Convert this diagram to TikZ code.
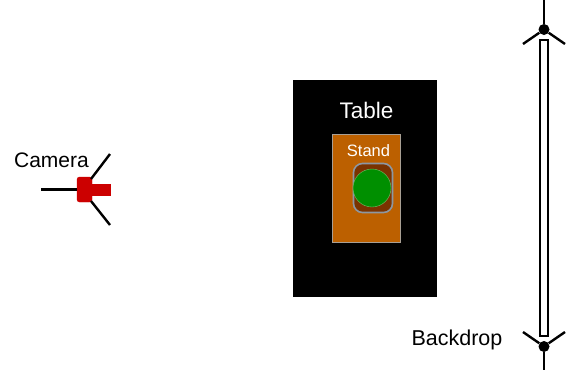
\documentclass[tikz,border=0pt]{standalone}
\usepackage{fontspec}
\setmainfont{Liberation Sans}
\definecolor{camred}{HTML}{CC0000}
\definecolor{standorange}{HTML}{BC6000}
\definecolor{basebrown}{HTML}{7A3300}
\definecolor{ballgreen}{HTML}{008F00}
\definecolor{edgegray}{HTML}{A89F94}
\definecolor{basegray}{HTML}{8C97A3}
\tikzset{
  box/.style={draw,minimum width=#1,inner sep=0pt,outer sep=0pt},
  wire/.style={line width=2.4pt,black},
  caption/.style={font=\fontsize{21}{25}\selectfont,inner sep=0pt}
}
\begin{document}
\begin{tikzpicture}[x=1pt,y=-1pt]

      \useasboundingbox (0,0) rectangle (568,370);

      % table and stand
      \node[box=143.5pt,minimum height=216pt,fill=black] (table) at (364.8,188) {};
      \node[box=68pt,minimum height=108pt,fill=standorange,draw=edgegray] (stand) at (366.5,188) {};
      \node[box=39pt,minimum height=49pt,fill=basebrown,draw=basegray,line width=1.6pt,rounded corners=9pt] (base) at (373,188) {};
      \node[box=38pt,circle,fill=ballgreen,draw=green!30!edgegray] (ball) at (372,188) {};
      \node[caption,text=white,font=\fontsize{22.5}{26}\selectfont] (tablelabel) at (366.5,110) {Table};
      \node[caption,text=white,font=\fontsize{16.5}{20}\selectfont] (standlabel) at (368.5,151) {Stand};

      % camera
      \node[box=15pt,minimum height=25pt,fill=camred,draw=camred,rounded corners=2.5pt] (body) at (84.5,189.5) {};
      \node[box=18pt,minimum height=11pt,fill=camred,draw=camred,anchor=west] (lens) at (body.east |- 0,189.5) {};
      \node[caption] (cameralabel) at (51.5,160) {Camera};
      \coordinate (camback) at (41,189.5);
      \coordinate (camup) at (110,154);
      \coordinate (camdown) at (110,225);
      \coordinate (camupin) at (91,179);
      \coordinate (camdownin) at (91,201);
      \begin{scope}[every edge/.style={draw,wire}]
        \path (camback) edge (body.west);
        \path (camupin) edge (camup);
        \path (camdownin) edge (camdown);
      \end{scope}

      % backdrop
      \node[box=8pt,minimum height=296pt,fill=white,line width=2.2pt] (backdrop) at (544,188) {};
      \node[caption,font=\fontsize{21.5}{25}\selectfont] (backdroplabel) at (457,340) {Backdrop};
      \begin{scope}[every node/.style={circle,fill=black,inner sep=0pt,minimum size=11pt}]
        \node (topjoint) at (544,29.5) {};
        \node (botjoint) at (544,346.5) {};
      \end{scope}
      \coordinate (topend) at (544,0);
      \coordinate (topleft) at (523,44);
      \coordinate (topright) at (565,44);
      \coordinate (botend) at (544,370);
      \coordinate (botleft) at (523,332);
      \coordinate (botright) at (565,332);
      \begin{scope}[every edge/.style={draw,wire}]
        \path (topjoint) edge (topend);
        \path (topjoint) edge (topleft);
        \path (topjoint) edge (topright);
        \path (botjoint) edge (botend);
        \path (botjoint) edge (botleft);
        \path (botjoint) edge (botright);
      \end{scope}

    \end{tikzpicture}
\end{document}
